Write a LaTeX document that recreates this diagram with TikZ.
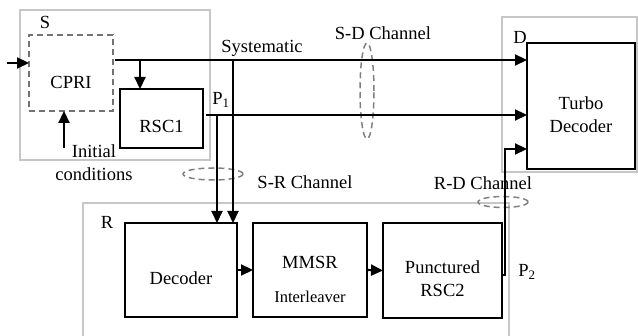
\documentclass[tikz,border=0pt]{standalone}
\usepackage{fontspec}
\setmainfont{Liberation Serif}
\usetikzlibrary{arrows.meta,positioning,calc,shapes.geometric}

\begin{document}
\begin{tikzpicture}[x=1pt,y=-1pt,>={Triangle[length=12pt,width=11pt]},
  font=\fontsize{18.5}{23}\selectfont,
  region/.style={draw=black!22,line width=1.3pt,inner sep=0pt,outer sep=0pt},
  blk/.style={draw,line width=2pt,inner sep=0pt,outer sep=0pt},
  dashblk/.style={draw=black!55,dashed,dash pattern=on 6pt off 4pt,line width=1.6pt,inner sep=0pt,outer sep=0pt},
  chan/.style={ellipse,draw=black!50,dash pattern=on 6pt off 4pt,line width=1.5pt,inner sep=0pt},
  sig/.style={line width=2.2pt}]
\useasboundingbox (0,0) rectangle (638,336);
\begin{scope}
\clip (0,0) rectangle (638,336);
% source, relay and destination areas
\node[region,minimum width=190pt,minimum height=150pt] (sreg) at (115,85) {};
\node[region,minimum width=135pt,minimum height=155pt] (dreg) at (569.5,94.5) {};
\node[region,minimum width=426pt,minimum height=145pt] (rreg) at (296,275.5) {};
\node (slab) at (45,22) {S};
\node (dlab) at (520,37) {D};
\node (rlab) at (107,222) {R};
% blocks
\node[dashblk,minimum width=84pt,minimum height=76pt,label={[yshift=-9pt]center:CPRI}] (cpri) at (71,73) {};
\node[blk,minimum width=83pt,minimum height=59pt,label={[yshift=-8pt]center:RSC1}] (rsc1) at (161.5,118.5) {};
\node[blk,minimum width=108pt,minimum height=126pt,label={[align=center,yshift=-9pt]center:Turbo\\Decoder}] (turbo) at (581,106) {};
\node[blk,minimum width=112pt,minimum height=94pt,label={[yshift=-8pt]center:Decoder}] (dec) at (181,270) {};
\node[blk,minimum width=114pt,minimum height=94pt,label={[align=center,yshift=-9pt]center:MMSR\\[11pt]{\fontsize{16.5}{18}\selectfont Interleaver}}] (mmsr) at (310,270) {};
\node[blk,minimum width=119pt,minimum height=95pt,label={[align=center,yshift=-8pt]center:Punctured\\RSC2}] (punc) at (442.5,270.5) {};
% channels
\node[chan,minimum width=14pt,minimum height=96pt] (sdch) at (367,91) {};
\node[chan,minimum width=60pt,minimum height=12pt] (srch) at (213,174) {};
\node[chan,minimum width=50pt,minimum height=11pt] (rdch) at (503,202) {};
\node (sdlab) at (383,33) {S-D Channel};
\node (srlab) at (305,182) {S-R Channel};
\node (rdlab) at (483,183) {R-D Channel};
\node (syslab) at (262,48) {Systematic};
\node (p1lab) at (221,100) {P\textsubscript{1}};
\node (p2lab) at (527,272) {P\textsubscript{2}};
\node[align=center] (initlab) at (94,163) {Initial\\conditions};
% signal lines
\coordinate (inp) at (7,63);
\coordinate (ini) at (64,148);
\coordinate (sys) at (115,60);
\coordinate (br) at (140,60);
\coordinate (p1) at (206,115);
\coordinate (tapa) at (217,115);
\coordinate (tapb) at (233,60);
\coordinate (p2) at (505,275);
\coordinate (rd) at (505,149);
\draw[sig,->] (inp) -- (inp -| cpri.west);
\draw[sig,->] (ini) -- (ini |- cpri.south);
\draw[sig,->] (sys) -- (sys -| turbo.west);
\draw[sig,->] (br) -- (br |- rsc1.north);
\draw[sig,->] (p1) -- (p1 -| turbo.west);
\draw[sig,->] (tapa) -- (tapa |- dec.north);
\draw[sig,->] (tapb) -- (tapb |- dec.north);
\draw[sig,->] (dec.east) -- (mmsr.west);
\draw[sig,->] (mmsr.east) -- (punc.west);
\draw[sig,->] (p2 -| punc.east) -- (p2) -- (rd) -- (rd -| turbo.west);
\end{scope}
\end{tikzpicture}
\end{document}
